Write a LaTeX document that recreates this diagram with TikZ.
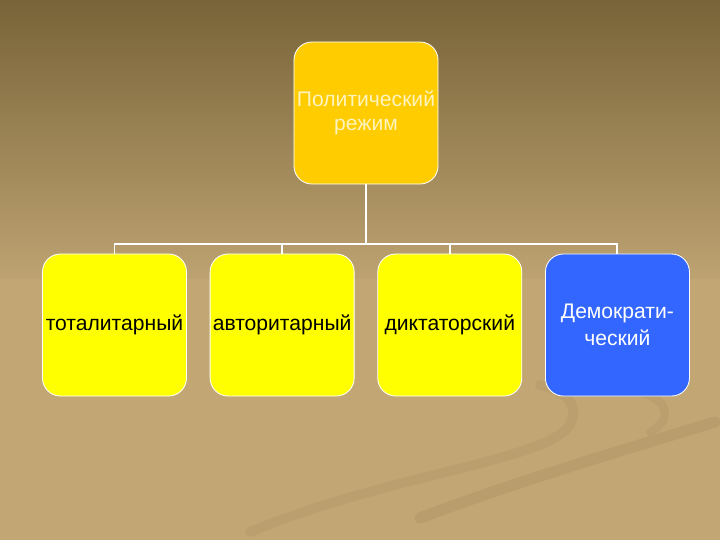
\documentclass[tikz,border=0pt]{standalone}
\usepackage{fontspec}
\setmainfont{Liberation Sans}
\definecolor{bgtop}{RGB}{120, 100, 56}
\definecolor{bgmid}{RGB}{190, 163, 114}
\definecolor{bglow}{RGB}{194, 166, 116}
\definecolor{swirl}{RGB}{160, 132, 86}
\definecolor{gold}{RGB}{255, 204, 0}
\definecolor{lemon}{RGB}{255, 255, 0}
\definecolor{royal}{RGB}{51, 102, 255}
\definecolor{paletext}{RGB}{255, 243, 190}
\usetikzlibrary{positioning}

\begin{document}
\begin{tikzpicture}[x=0.025cm, y=-0.025cm,
    box/.style={draw=white, line width=0.6pt, rounded corners=0.45cm,
        minimum width=3.6cm, minimum height=3.55cm, inner xsep=1pt,
        outer sep=0pt, align=center, font=\fontsize{15}{17}\selectfont},
    link/.style={white, line width=1.4pt}]
                % Background
                \useasboundingbox (0,0) rectangle (720,540);
                \fill[top color=bgtop, bottom color=bgmid] (0,0) rectangle (720,280);
                \fill[bglow] (0,279) rectangle (720,540);

                % Swirls
                \draw[swirl, line width=7pt, opacity=0.18, line cap=round]
                    (250,532) .. controls (400,470) and (560,460) .. (572,420)
                    .. controls (578,400) and (560,390) .. (540,385);
                \draw[swirl, line width=8pt, opacity=0.25, line cap=round]
                    (420,518) .. controls (520,480) and (640,445) .. (715,422);
                \draw[swirl, line width=6pt, opacity=0.18, line cap=round]
                    (650,432) .. controls (672,420) and (670,400) .. (640,392);

                % Boxes
                \node[box, fill=gold, text=paletext] (regime) at (366,113)
                    {Политический\\режим};
                \node[box, fill=lemon] (total) at (114.5,325) {тоталитарный};
                \node[box, fill=lemon, right=0.59cm of total] (author) {авторитарный};
                \node[box, fill=lemon, right=0.59cm of author] (dictat) {диктаторский};
                \node[box, fill=royal, text=white, right=0.59cm of dictat,
                    font=\fontsize{15}{19}\selectfont] (democ) {Демократи-\\ческий};

                % Links
                \coordinate (fork) at (366,244);
                \draw[link] (regime.south) -- (fork);
                \draw[link] (fork) -| (total.north);
                \draw[link] (fork) -| (author.north);
                \draw[link] (fork) -| (dictat.north);
                \draw[link] (fork) -| (democ.north);
            \end{tikzpicture}
\end{document}
